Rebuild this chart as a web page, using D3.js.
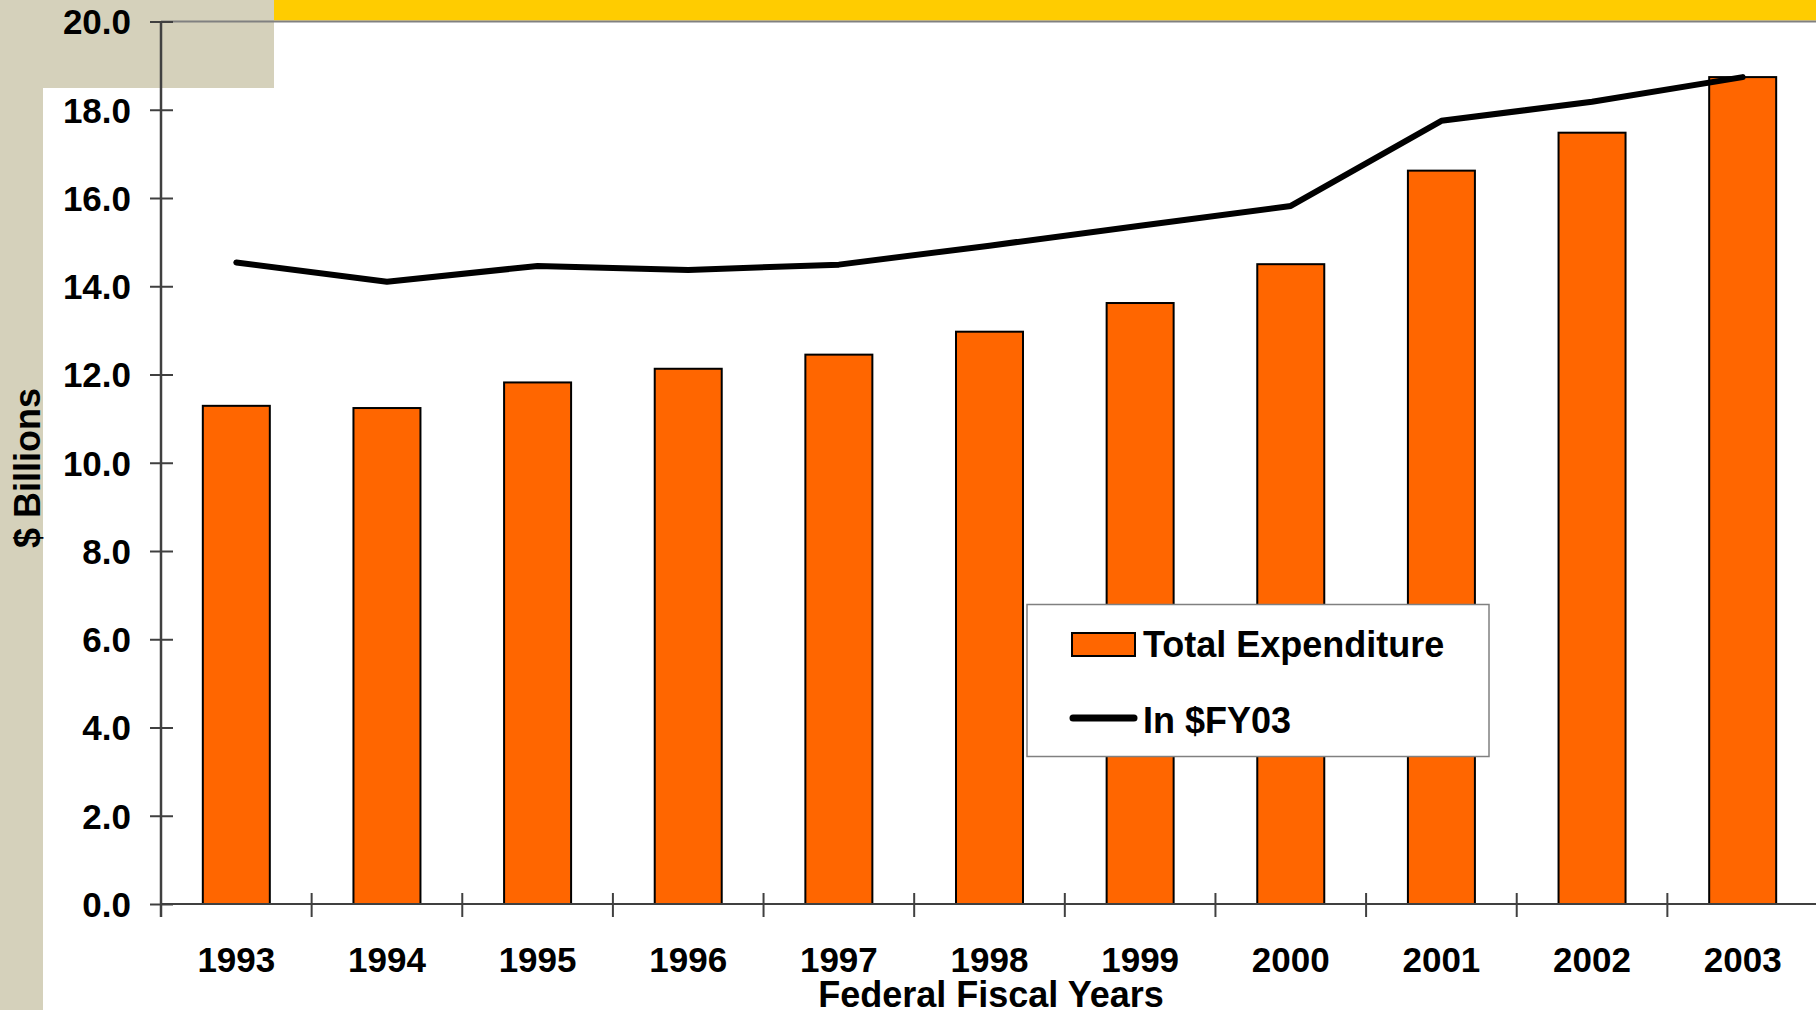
<!DOCTYPE html>
<html>
<head>
<meta charset="utf-8">
<script src="https://cdn.jsdelivr.net/npm/d3@7"></script>
<style>
  html, body { margin: 0; padding: 0; background: #ffffff; }
  svg { display: block; }
  text { font-family: "Liberation Sans", Arial, sans-serif; font-weight: bold; fill: #000; }
</style>
</head>
<body>
<svg id="chart" width="1816" height="1010"></svg>
<script>
const years = ["1993","1994","1995","1996","1997","1998","1999","2000","2001","2002","2003"];
const totalExpenditure = [11.29, 11.24, 11.82, 12.13, 12.45, 12.97, 13.62, 14.50, 16.62, 17.48, 18.74];
const inFY03 = [14.54, 14.10, 14.46, 14.37, 14.49, 14.92, 15.37, 15.82, 17.75, 18.18, 18.74];
const yTicks = [0, 2, 4, 6, 8, 10, 12, 14, 16, 18, 20];
const seriesNames = ["Total Expenditure", "In $FY03"];
const xTitle = "Federal Fiscal Years";
const yTitle = "$ Billions";

(function () {
const svg = d3.select("#chart");
const W = 1816, H = 1010;

// background decorations
svg.append("rect").attr("x", 0).attr("y", 0).attr("width", W).attr("height", H).attr("fill", "#ffffff");
svg.append("rect").attr("x", 0).attr("y", 0).attr("width", 274).attr("height", 88).attr("fill", "#D5D1BB");
svg.append("rect").attr("x", 0).attr("y", 0).attr("width", 43).attr("height", H).attr("fill", "#D5D1BB");
svg.append("rect").attr("x", 274).attr("y", 0).attr("width", W - 274).attr("height", 20.5).attr("fill", "#FFCC00");

const pLeft = 161, pRight = 1818, pTop = 21.5, pBottom = 904;

const x = d3.scaleBand().domain(years).range([pLeft, pRight]).paddingInner(0).paddingOuter(0);
const y = d3.scaleLinear().domain([0, 20]).range([pBottom, pTop]);

// plot top border
svg.append("line").attr("x1", pLeft).attr("x2", W).attr("y1", pTop).attr("y2", pTop)
  .attr("stroke", "#808080").attr("stroke-width", 2);

// bars
const barW = 67;
svg.append("g").selectAll("rect").data(years).join("rect")
  .attr("x", d => x(d) + x.bandwidth() / 2 - barW / 2)
  .attr("y", (d, i) => y(totalExpenditure[i]))
  .attr("width", barW)
  .attr("height", (d, i) => y(0) - y(totalExpenditure[i]))
  .attr("fill", "#FF6600")
  .attr("stroke", "#000")
  .attr("stroke-width", 2);

// y axis
const yAxis = d3.axisLeft(y).tickValues(yTicks).tickFormat(d3.format(".1f")).tickSizeInner(0).tickSizeOuter(0).tickPadding(30);
const gy = svg.append("g").attr("transform", `translate(${pLeft},0)`).call(yAxis);
gy.select(".domain").remove();
gy.selectAll(".tick text").attr("font-size", 35).attr("dy", "0.35em").style("font-family", '"Liberation Sans", Arial, sans-serif').style("font-weight", "bold");
gy.selectAll(".tick").append("line").attr("x1", -11).attr("x2", 12).attr("y1", 0).attr("y2", 0)
  .attr("stroke", "#404040").attr("stroke-width", 2);
svg.append("line").attr("x1", pLeft).attr("x2", pLeft).attr("y1", pTop).attr("y2", pBottom + 13)
  .attr("stroke", "#404040").attr("stroke-width", 2.5);

// x axis
const xAxis = d3.axisBottom(x).tickSize(0).tickPadding(0);
const gx = svg.append("g").attr("transform", `translate(0,${pBottom})`).call(xAxis);
gx.select(".domain").remove();
gx.selectAll(".tick text").attr("font-size", 35).attr("dy", null).attr("y", 68)
  .style("font-family", '"Liberation Sans", Arial, sans-serif').style("font-weight", "bold");
svg.append("line").attr("x1", pLeft).attr("x2", W).attr("y1", pBottom).attr("y2", pBottom)
  .attr("stroke", "#404040").attr("stroke-width", 2);
svg.append("g").selectAll("line").data(years.slice(1)).join("line")
  .attr("x1", d => x(d)).attr("x2", d => x(d))
  .attr("y1", pBottom - 11).attr("y2", pBottom + 13)
  .attr("stroke", "#404040").attr("stroke-width", 2);

// line series
const line = d3.line()
  .x((d, i) => x(years[i]) + x.bandwidth() / 2)
  .y(d => y(d));
svg.append("path").datum(inFY03)
  .attr("d", line)
  .attr("fill", "none")
  .attr("stroke", "#000")
  .attr("stroke-width", 6)
  .attr("stroke-linecap", "round")
  .attr("stroke-linejoin", "round");

// axis titles
svg.append("text").attr("x", 991).attr("y", 1007)
  .attr("text-anchor", "middle").attr("font-size", 36).text(xTitle);
svg.append("text").attr("transform", "translate(40,468) rotate(-90)")
  .attr("text-anchor", "middle").attr("font-size", 36).text(yTitle);

// legend
const lg = svg.append("g");
lg.append("rect").attr("x", 1027).attr("y", 604.5).attr("width", 462).attr("height", 152)
  .attr("fill", "#fff").attr("stroke", "#808080").attr("stroke-width", 1.5);
lg.append("rect").attr("x", 1072).attr("y", 633).attr("width", 63).attr("height", 23)
  .attr("fill", "#FF6600").attr("stroke", "#000").attr("stroke-width", 2);
lg.append("text").attr("x", 1143).attr("y", 657).attr("font-size", 36).text(seriesNames[0]);
lg.append("line").attr("x1", 1073).attr("x2", 1134).attr("y1", 718).attr("y2", 718)
  .attr("stroke", "#000").attr("stroke-width", 7).attr("stroke-linecap", "round");
lg.append("text").attr("x", 1143).attr("y", 733).attr("font-size", 36).text(seriesNames[1]);
})();
</script>
</body>
</html>
